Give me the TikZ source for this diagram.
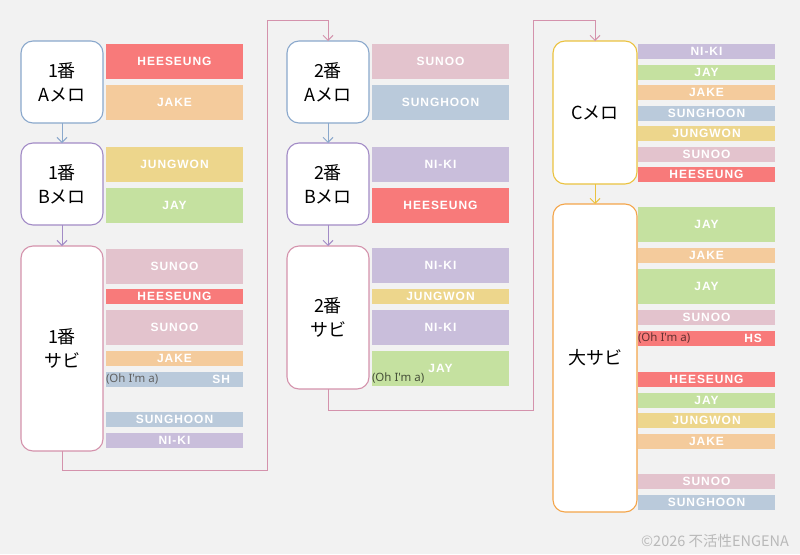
\documentclass[tikz,border=0pt]{standalone}
\usepackage{fontspec}
\newfontfamily\jpfont{Noto Sans CJK JP}
\newfontfamily\barfont[LetterSpace=8]{Liberation Sans}
\newfontfamily\ohfont{Noto Sans}
\usepackage{xcolor}
\definecolor{PaperGray}{RGB}{242,242,242}
\definecolor{HeeRed}{RGB}{248,122,122}
\definecolor{JakeOrange}{RGB}{244,203,156}
\definecolor{WonYellow}{RGB}{237,214,140}
\definecolor{JayGreen}{RGB}{197,225,160}
\definecolor{SunooPink}{RGB}{227,195,205}
\definecolor{HoonBlue}{RGB}{186,202,219}
\definecolor{NikiPurple}{RGB}{201,190,219}
\definecolor{ABlue}{RGB}{138,168,204}
\definecolor{BPurple}{RGB}{162,139,198}
\definecolor{SabiPink}{RGB}{212,146,172}
\definecolor{CYellow}{RGB}{235,194,63}
\definecolor{BigOrange}{RGB}{244,165,74}
\definecolor{CopyGray}{RGB}{185,185,185}
\usetikzlibrary{positioning, arrows.meta}

\begin{document}
\begin{tikzpicture}[
    x=1pt, y=-1pt,
    every node/.style={inner sep=0pt, outer sep=0pt},
    part/.style={
        draw,
        fill=white,
        rounded corners=12pt,
        line width=1.1pt,
        minimum width=82pt,
        align=center,
        font=\jpfont\fontsize{18}{24}\selectfont
    },
    bar/.style={anchor=north west, minimum width=137pt, minimum height=15pt,
        text=white, font=\barfont\bfseries\fontsize{12}{12}\selectfont},
    tall/.style={minimum height=35pt},
    tag/.style={anchor=east, text=white, font=\barfont\bfseries\fontsize{12}{12}\selectfont},
    hee/.style={fill=HeeRed},
    jake/.style={fill=JakeOrange},
    won/.style={fill=WonYellow},
    jay/.style={fill=JayGreen},
    sunoo/.style={fill=SunooPink},
    hoon/.style={fill=HoonBlue},
    niki/.style={fill=NikiPurple},
    oh/.style={anchor=west, font=\ohfont\fontsize{11.5}{12}\selectfont},
    flow/.style={line width=1pt, -{Straight Barb[length=5pt, width=10pt]}}
]
\fill[PaperGray] (0,0) rectangle (800,554);
\useasboundingbox (0,0) rectangle (800,554);

% 1番
\node[part, anchor=north west, minimum height=82pt, draw=ABlue] (a1) at (21,41) {1番\\Aメロ};
\node[part, minimum height=82pt, draw=BPurple, below=20pt of a1] (b1) {1番\\Bメロ};
\node[part, minimum height=205pt, draw=SabiPink, below=21pt of b1] (s1) {1番\\サビ};

\node[bar, tall, hee] (a1m1) at (106,44) {HEESEUNG};
\node[bar, tall, jake] (a1m2) at (106,85) {JAKE};
\node[bar, tall, won] (b1m1) at (106,147) {JUNGWON};
\node[bar, tall, jay] (b1m2) at (106,188) {JAY};
\node[bar, tall, sunoo] (s1m1) at (106,249) {SUNOO};
\node[bar, hee] (s1m2) at (106,289) {HEESEUNG};
\node[bar, tall, sunoo] (s1m3) at (106,310) {SUNOO};
\node[bar, jake] (s1m4) at (106,351) {JAKE};
\node[bar, hoon] (s1m5) at (106,372) {};
\node[oh, text=black!62] (oh1) at (s1m5.west) {(Oh I'm a)};
\node[tag] (sh1) at ([xshift=-13pt]s1m5.east) {SH};
\node[bar, hoon] (s1m6) at (106,412) {SUNGHOON};
\node[bar, niki] (s1m7) at (106,433) {NI-KI};

% 2番
\node[part, anchor=north west, minimum height=82pt, draw=ABlue] (a2) at (287,41) {2番\\Aメロ};
\node[part, minimum height=82pt, draw=BPurple, below=20pt of a2] (b2) {2番\\Bメロ};
\node[part, minimum height=143pt, draw=SabiPink, below=21pt of b2] (s2) {2番\\サビ};

\node[bar, tall, sunoo] (a2m1) at (372,44) {SUNOO};
\node[bar, tall, hoon] (a2m2) at (372,85) {SUNGHOON};
\node[bar, tall, niki] (b2m1) at (372,147) {NI-KI};
\node[bar, tall, hee] (b2m2) at (372,188) {HEESEUNG};
\node[bar, tall, niki] (s2m1) at (372,248) {NI-KI};
\node[bar, won] (s2m2) at (372,289) {JUNGWON};
\node[bar, tall, niki] (s2m3) at (372,310) {NI-KI};
\node[bar, tall, jay] (s2m4) at (372,351) {JAY};
\node[oh, text=JayGreen!35!black] (oh2) at ([yshift=-10pt]s2m4.west) {(Oh I'm a)};

% Cメロ, 大サビ
\node[part, anchor=north west, minimum width=84pt, minimum height=143pt, draw=CYellow] (c3) at (553,41) {Cメロ};
\node[part, minimum width=84pt, minimum height=308pt, draw=BigOrange, below=20pt of c3] (d3) {大サビ};

\node[bar, niki] (c3m1) at (638,44) {NI-KI};
\node[bar, jay] (c3m2) at (638,64.5) {JAY};
\node[bar, jake] (c3m3) at (638,85) {JAKE};
\node[bar, hoon] (c3m4) at (638,105.5) {SUNGHOON};
\node[bar, won] (c3m5) at (638,126) {JUNGWON};
\node[bar, sunoo] (c3m6) at (638,146.5) {SUNOO};
\node[bar, hee] (c3m7) at (638,167) {HEESEUNG};

\node[bar, tall, jay] (d3m1) at (638,207) {JAY};
\node[bar, jake] (d3m2) at (638,248) {JAKE};
\node[bar, tall, jay] (d3m3) at (638,269) {JAY};
\node[bar, sunoo] (d3m4) at (638,310) {SUNOO};
\node[bar, hee] (d3m5) at (638,331) {};
\node[oh, text=HeeRed!40!black] (oh3) at (d3m5.west) {(Oh I'm a)};
\node[tag] (hs3) at ([xshift=-13pt]d3m5.east) {HS};
\node[bar, hee] (d3m6) at (638,372) {HEESEUNG};
\node[bar, jay] (d3m7) at (638,392.5) {JAY};
\node[bar, won] (d3m8) at (638,413) {JUNGWON};
\node[bar, jake] (d3m9) at (638,433.5) {JAKE};
\node[bar, sunoo] (d3m10) at (638,474) {SUNOO};
\node[bar, hoon] (d3m11) at (638,494.5) {SUNGHOON};

% Arrows
\draw[flow, ABlue] (a1) -- (b1);
\draw[flow, BPurple] (b1) -- (s1);
\draw[flow, ABlue] (a2) -- (b2);
\draw[flow, BPurple] (b2) -- (s2);
\draw[flow, CYellow] (c3) -- (d3);

\coordinate (t1) at (267,20);
\coordinate (t2) at (533,20);
\draw[flow, SabiPink] (s1.south) -- ++(0,19) -| (t1) -| (a2.north);
\draw[flow, SabiPink] (s2.south) -- ++(0,21) -| (t2) -| (c3.north);

\node[anchor=east, text=CopyGray, font=\jpfont\fontsize{14.5}{15}\selectfont] (copy) at (789,541) {©2026 不活性ENGENA};
\end{tikzpicture}
\end{document}
